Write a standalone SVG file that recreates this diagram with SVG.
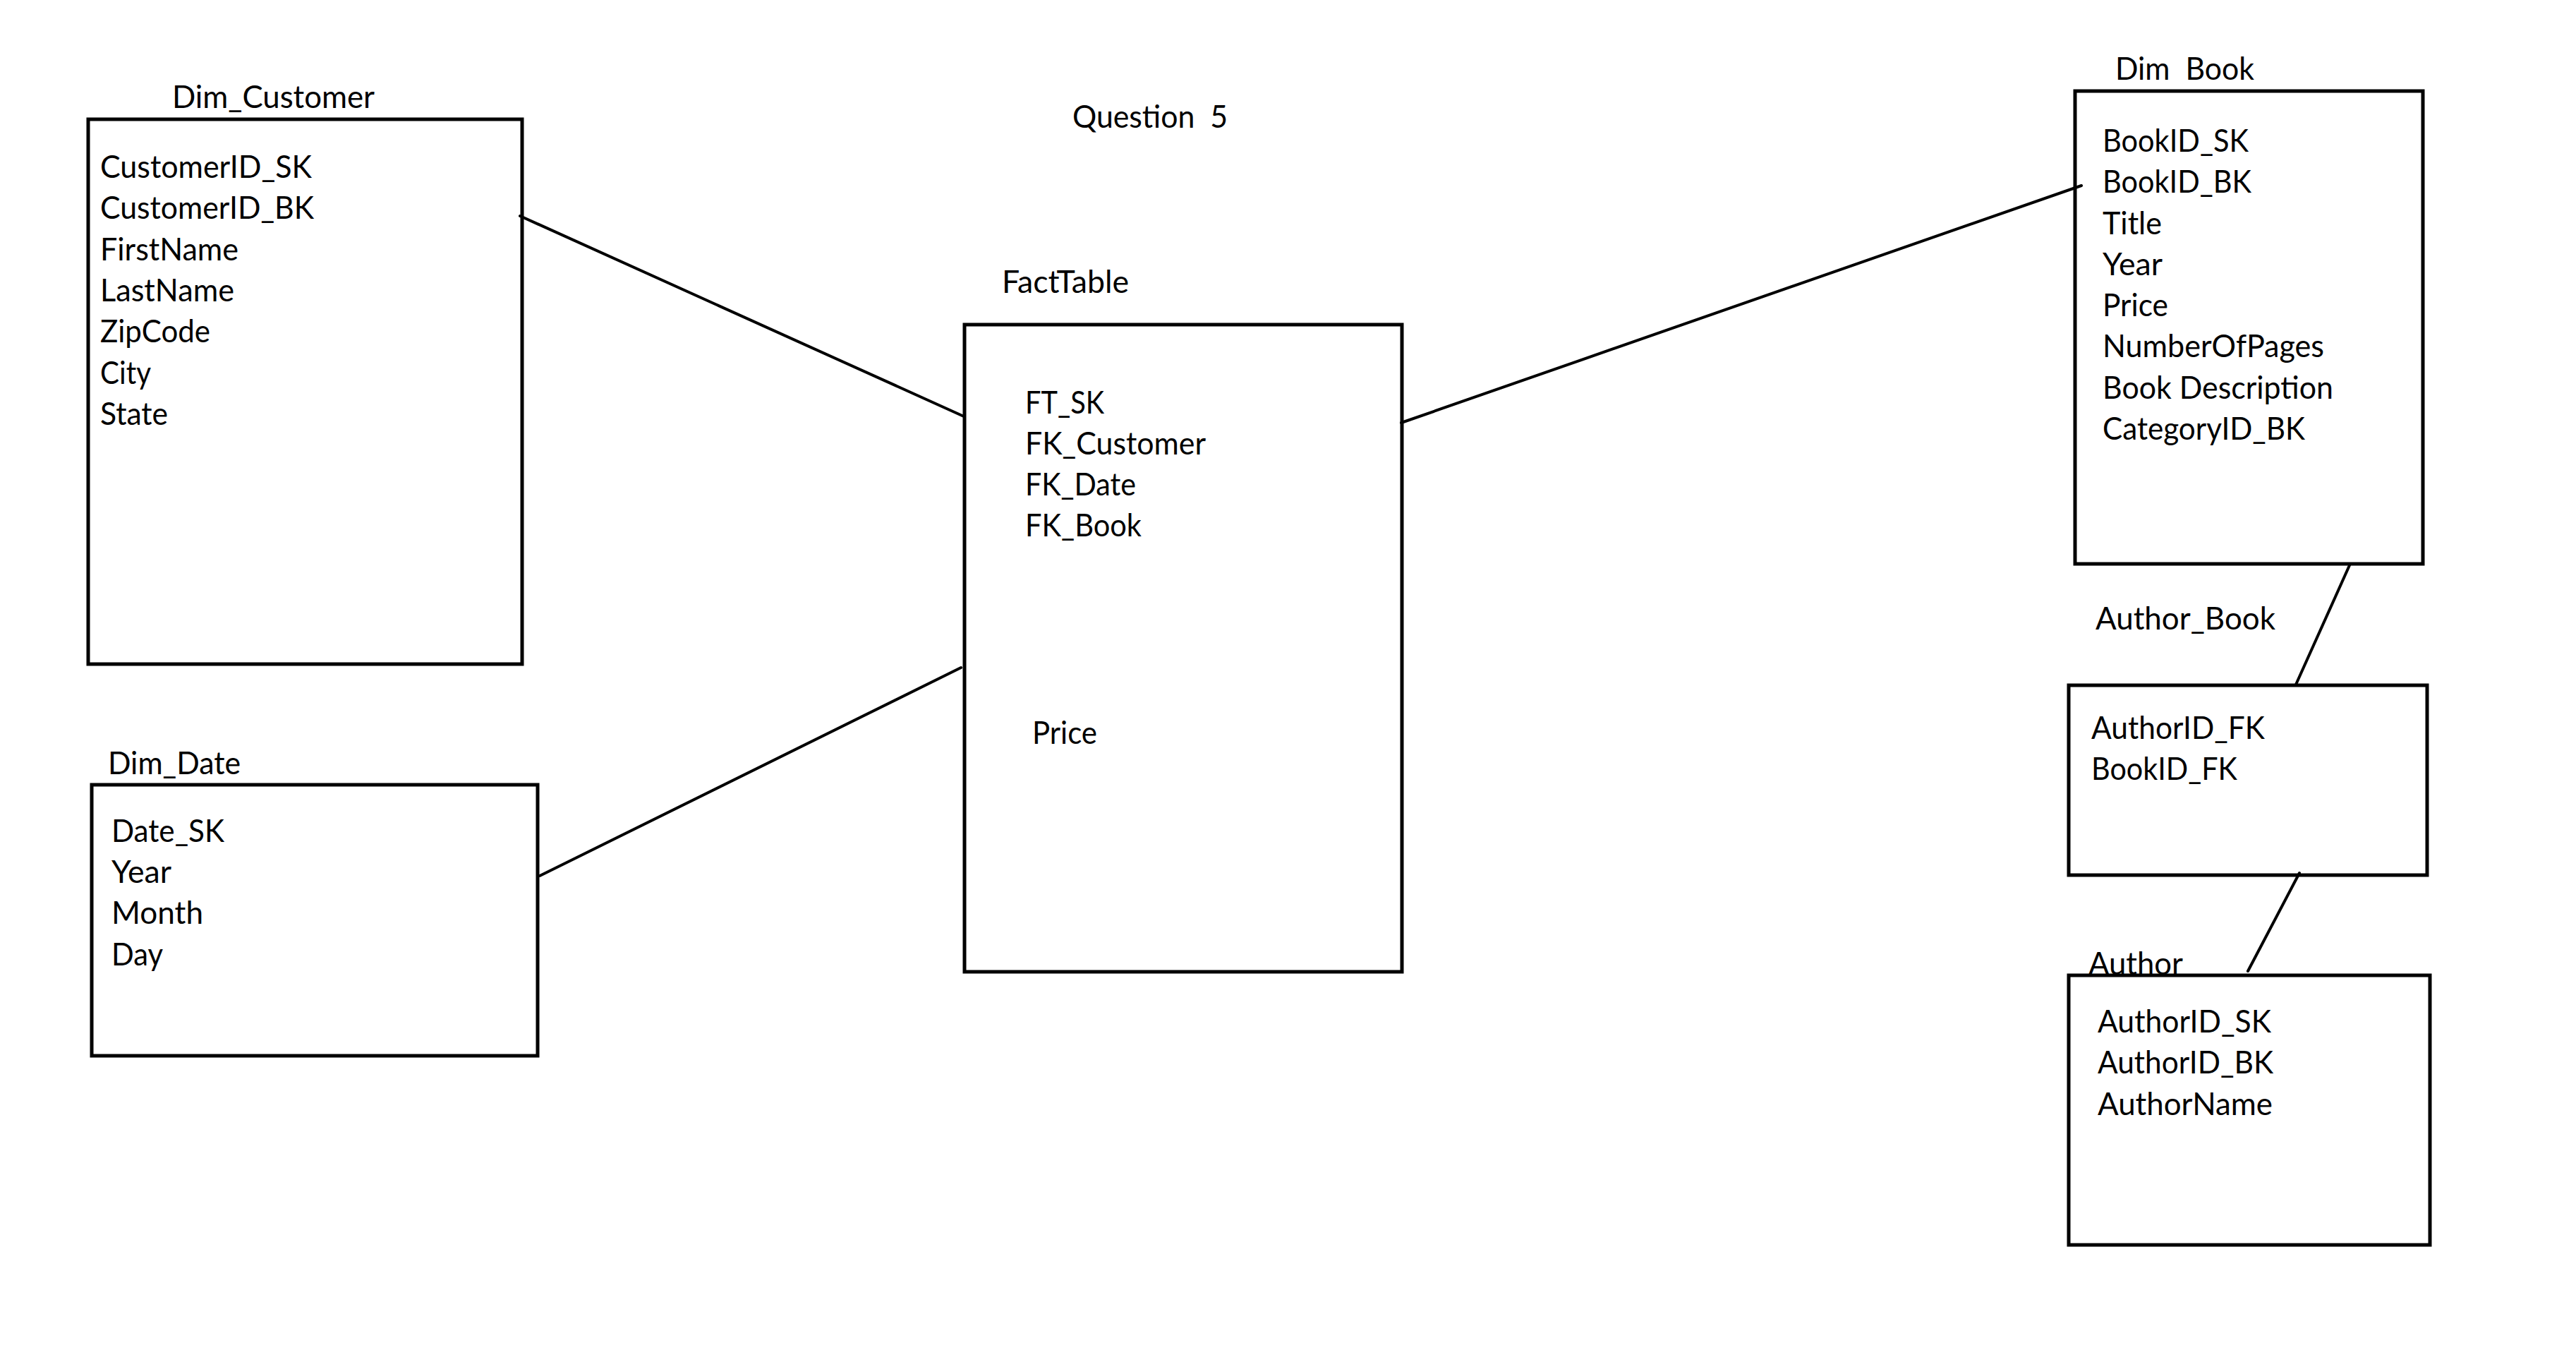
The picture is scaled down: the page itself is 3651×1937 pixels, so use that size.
<svg xmlns="http://www.w3.org/2000/svg" width="3651" height="1937" viewBox="0 0 3651 1937">
<style>
.bg{fill:#fff}
.box{fill:none;stroke:#000;stroke-width:5}
.con{fill:none;stroke:#000;stroke-width:4;stroke-linecap:round}
text{font-family:Lato,"Liberation Sans",sans-serif;font-size:45px;fill:#000;white-space:pre}
</style>
<rect class="bg" x="0" y="0" width="3651" height="1937"/>
<g id="connectors">
<line class="con" x1="737" y1="306" x2="1366" y2="590"/>
<line class="con" x1="765" y1="1241" x2="1362" y2="946"/>
<line class="con" x1="1986" y1="599" x2="2950" y2="263"/>
<line class="con" x1="3330" y1="801" x2="3254" y2="970"/>
<line class="con" x1="3259" y1="1237" x2="3186" y2="1376"/>
</g>
<g id="title">
<text x="1520" y="181" textLength="220" lengthAdjust="spacingAndGlyphs" xml:space="preserve">Question  5</text>
</g>
<g id="dim_customer">
<text x="244" y="153" textLength="287" lengthAdjust="spacingAndGlyphs">Dim_Customer</text>
<rect class="box" x="125" y="169" width="615" height="772"/>
<text x="142" y="252" textLength="300" lengthAdjust="spacingAndGlyphs">CustomerID_SK</text>
<text x="142" y="310" textLength="303" lengthAdjust="spacingAndGlyphs">CustomerID_BK</text>
<text x="142" y="369" textLength="196" lengthAdjust="spacingAndGlyphs">FirstName</text>
<text x="142" y="427" textLength="190" lengthAdjust="spacingAndGlyphs">LastName</text>
<text x="142" y="485" textLength="156" lengthAdjust="spacingAndGlyphs">ZipCode</text>
<text x="142" y="544" textLength="72" lengthAdjust="spacingAndGlyphs">City</text>
<text x="142" y="602" textLength="96" lengthAdjust="spacingAndGlyphs">State</text>
</g>
<g id="dim_date">
<text x="153" y="1097" textLength="188" lengthAdjust="spacingAndGlyphs">Dim_Date</text>
<rect class="box" x="130" y="1112" width="632" height="384"/>
<text x="158" y="1193" textLength="160" lengthAdjust="spacingAndGlyphs">Date_SK</text>
<text x="158" y="1251" textLength="85" lengthAdjust="spacingAndGlyphs">Year</text>
<text x="158" y="1309" textLength="130" lengthAdjust="spacingAndGlyphs">Month</text>
<text x="158" y="1368" textLength="73" lengthAdjust="spacingAndGlyphs">Day</text>
</g>
<g id="fact_table">
<text x="1420" y="415" textLength="180" lengthAdjust="spacingAndGlyphs">FactTable</text>
<rect class="box" x="1367" y="460" width="620" height="917"/>
<text x="1453" y="586" textLength="112" lengthAdjust="spacingAndGlyphs">FT_SK</text>
<text x="1453" y="644" textLength="256" lengthAdjust="spacingAndGlyphs">FK_Customer</text>
<text x="1453" y="702" textLength="157" lengthAdjust="spacingAndGlyphs">FK_Date</text>
<text x="1453" y="760" textLength="165" lengthAdjust="spacingAndGlyphs">FK_Book</text>
<text x="1463" y="1054" textLength="92" lengthAdjust="spacingAndGlyphs">Price</text>
</g>
<g id="dim_book">
<text x="2998" y="113" textLength="197" lengthAdjust="spacingAndGlyphs" xml:space="preserve">Dim  Book</text>
<rect class="box" x="2941" y="129" width="493" height="670"/>
<text x="2980" y="215" textLength="207" lengthAdjust="spacingAndGlyphs">BookID_SK</text>
<text x="2980" y="273" textLength="211" lengthAdjust="spacingAndGlyphs">BookID_BK</text>
<text x="2980" y="332" textLength="84" lengthAdjust="spacingAndGlyphs">Title</text>
<text x="2980" y="390" textLength="85" lengthAdjust="spacingAndGlyphs">Year</text>
<text x="2980" y="448" textLength="93" lengthAdjust="spacingAndGlyphs">Price</text>
<text x="2980" y="506" textLength="314" lengthAdjust="spacingAndGlyphs">NumberOfPages</text>
<text x="2980" y="565" textLength="327" lengthAdjust="spacingAndGlyphs">Book Description</text>
<text x="2980" y="623" textLength="287" lengthAdjust="spacingAndGlyphs">CategoryID_BK</text>
</g>
<g id="author_book">
<text x="2970" y="892" textLength="255" lengthAdjust="spacingAndGlyphs">Author_Book</text>
<rect class="box" x="2932" y="971" width="508" height="269"/>
<text x="2964" y="1047" textLength="246" lengthAdjust="spacingAndGlyphs">AuthorID_FK</text>
<text x="2964" y="1105" textLength="207" lengthAdjust="spacingAndGlyphs">BookID_FK</text>
</g>
<g id="author">
<text x="2960" y="1381" textLength="134" lengthAdjust="spacingAndGlyphs">Author</text>
<rect class="box" x="2932" y="1382" width="512" height="382"/>
<text x="2973" y="1463" textLength="246" lengthAdjust="spacingAndGlyphs">AuthorID_SK</text>
<text x="2973" y="1521" textLength="249" lengthAdjust="spacingAndGlyphs">AuthorID_BK</text>
<text x="2973" y="1580" textLength="248" lengthAdjust="spacingAndGlyphs">AuthorName</text>
</g>
</svg>
